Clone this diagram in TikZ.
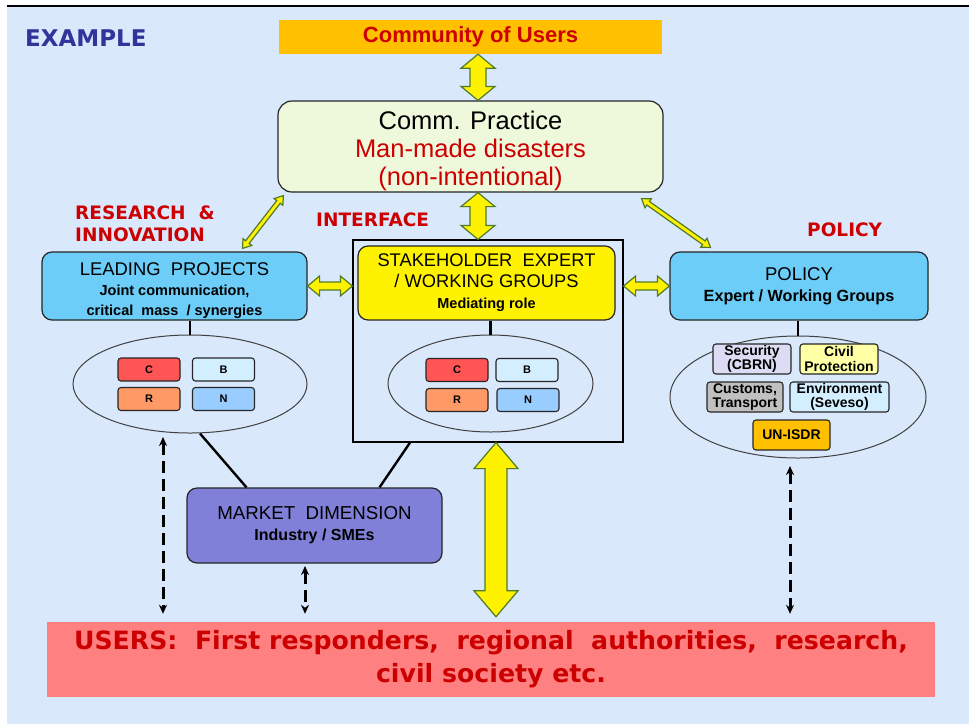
\documentclass[tikz,border=0pt]{standalone}
\usepackage{fontspec}
\setmainfont{Liberation Sans}
\newfontfamily\verdfont{DejaVu Sans}
\usetikzlibrary{calc}
\usetikzlibrary{positioning}
\usetikzlibrary{shapes.geometric}
\usetikzlibrary{arrows.meta}

\definecolor{bgblue}{HTML}{DAE8FB}
\definecolor{orng}{HTML}{FFC000}
\definecolor{redtxt}{HTML}{CC0000}
\definecolor{paleg}{HTML}{EEF9DC}
\definecolor{skyb}{HTML}{6BCDF8}
\definecolor{purp}{HTML}{8080D8}
\definecolor{pinkr}{HTML}{FF8080}
\definecolor{navy}{HTML}{333399}
\definecolor{olive}{HTML}{4F7A28}
\definecolor{chipc}{HTML}{FF5555}
\definecolor{chipb}{HTML}{D2EEFF}
\definecolor{chipr}{HTML}{FF9966}
\definecolor{chipn}{HTML}{99CCFF}
\definecolor{lav}{HTML}{DCDCF4}
\definecolor{lyel}{HTML}{FFFFA6}
\definecolor{gry}{HTML}{C0C0C0}

% fat double arrow: from, to, head length, head half width, shaft half width
\newcommand{\fatarrow}[5]{%
  \filldraw[fat] (#1)
    -- ($(#1)!#3!(#2)!#4!90:(#2)$)
    -- ($(#1)!#3!(#2)!#5!90:(#2)$)
    -- ($(#2)!#3!(#1)!#5!-90:(#1)$)
    -- ($(#2)!#3!(#1)!#4!-90:(#1)$)
    -- (#2)
    -- ($(#2)!#3!(#1)!#4!90:(#1)$)
    -- ($(#2)!#3!(#1)!#5!90:(#1)$)
    -- ($(#1)!#3!(#2)!#5!-90:(#2)$)
    -- ($(#1)!#3!(#2)!#4!-90:(#2)$)
    -- cycle;}

\begin{document}
\begin{tikzpicture}[x=1pt,y=-1pt,
  box/.style={draw=black!85,line width=1.2pt,rounded corners=12pt,align=center,inner sep=0pt,font=\fontsize{15}{21}\selectfont},
  chip/.style={draw=black!85,line width=1.1pt,rounded corners=3pt,minimum width=62pt,minimum height=23pt,inner sep=0pt,font=\bfseries\fontsize{11}{12}\selectfont},
  pchip/.style={chip,minimum height=30pt,align=center,font=\bfseries\fontsize{14}{14.5}\selectfont},
  ring/.style={draw=black!75,line width=1pt,ellipse,inner sep=0pt},
  head/.style={text=redtxt,inner sep=0pt,align=left,font=\verdfont\bfseries\fontsize{18.5}{22}\selectfont},
  fat/.style={fill=yellow,draw=olive,line width=1.2pt,line join=miter},
  link/.style={line width=2.4pt},
  dasharrow/.style={line width=3pt,dash pattern=on 12pt off 6pt,{Stealth[length=9pt,width=8pt]}-{Stealth[length=9pt,width=8pt]}}]
  \useasboundingbox (0,0) rectangle (969,724);
  \fill[bgblue] (7,7) rectangle (969,724);
  \draw[line width=2pt] (7,6) -- (969,6);

  \node[text=navy,anchor=west,inner sep=0pt,font=\verdfont\bfseries\fontsize{23}{26}\selectfont] (ex) at (25,38) {EXAMPLE};

  \node[fill=orng,minimum width=383pt,minimum height=34pt,inner sep=0pt,text=redtxt,font=\bfseries\fontsize{22}{24}\selectfont] (cu) at (470.5,37) {Community of Users};
  \node[box,fill=paleg,minimum width=385pt,minimum height=91pt,rounded corners=14pt,font=\fontsize{25.5}{28}\selectfont] (cp) at (470.5,146.5)
    {\rule{0pt}{28pt}Comm. Practice\\ \textcolor{redtxt}{Man-made disasters}\\ \textcolor{redtxt}{(non-intentional)}};

  \node[head,anchor=north west] (ri) at (75,206) {RESEARCH \ \&\\INNOVATION};
  \node[head,anchor=west] (it) at (316,220) {INTERFACE};
  \node[head,anchor=west] (po) at (807,230) {POLICY};

  \node[box,fill=skyb,minimum width=265pt,minimum height=68pt,rounded corners=10pt,font=\fontsize{15}{20}\selectfont] (lp) at (174.5,286)
    {\rule{0pt}{22pt}{\fontsize{18.4}{20}\selectfont LEADING \ PROJECTS}\\
     {\bfseries\fontsize{14.5}{18}\selectfont Joint communication,}\\
     {\bfseries\fontsize{14.5}{18}\selectfont critical \ mass \ / synergies}};
  \node[draw=black,line width=1.2pt,minimum width=270pt,minimum height=202pt,inner sep=0pt] (ifc) at (488,341) {};
  \node[box,fill=yellow,minimum width=257pt,minimum height=74pt,rounded corners=10pt] (sh) at (486.5,283)
    {{\fontsize{18.3}{21}\selectfont STAKEHOLDER \ EXPERT}\\
     {\fontsize{18.3}{21}\selectfont / WORKING GROUPS}\\
     {\bfseries\fontsize{14.5}{18}\selectfont Mediating role}};
  \node[box,fill=skyb,minimum width=258pt,minimum height=68pt,rounded corners=10pt] (pol) at (799,286)
    {{\fontsize{18.5}{22}\selectfont POLICY}\\
     {\bfseries\fontsize{16.2}{18}\selectfont Expert / Working Groups}};

  % ellipses with their topics
  \node[ring,minimum width=234pt,minimum height=98pt] (ell1) at (190,384) {};
  \node[ring,minimum width=205pt,minimum height=97pt] (ell2) at (490.5,383.5) {};
  \node[ring,minimum width=256pt,minimum height=122pt] (ell3) at (798,397) {};

  \node[chip,fill=chipc] (c1) at (149,369.5) {C};
  \node[chip,fill=chipb] (b1) at (223.5,369.5) {B};
  \node[chip,fill=chipr] (r1) at (149,399) {R};
  \node[chip,fill=chipn] (n1) at (223.5,399) {N};

  \node[chip,fill=chipc] (c2) at (457,370) {C};
  \node[chip,fill=chipb] (b2) at (527,370) {B};
  \node[chip,fill=chipr] (r2) at (457,400) {R};
  \node[chip,fill=chipn] (n2) at (528,400) {N};

  \node[pchip,fill=lav,minimum width=78pt] (sec) at (752,359) {Security\\(CBRN)};
  \node[pchip,fill=lyel,minimum width=78pt] (civ) at (839,359) {Civil\\Protection};
  \node[pchip,fill=gry,minimum width=76pt] (cus) at (745,397) {Customs,\\Transport};
  \node[pchip,fill=chipb,minimum width=99pt] (env) at (839.5,397) {Environment\\(Seveso)};
  \node[pchip,fill=orng,minimum width=77pt] (un) at (791.5,435) {UN-ISDR};

  \node[box,fill=purp,minimum width=255pt,minimum height=75pt,rounded corners=10pt] (mk) at (314.5,525.5)
    {{\fontsize{18.7}{21}\selectfont MARKET \ DIMENSION}\\
     {\bfseries\fontsize{16}{17}\selectfont Industry / SMEs}};

  \node[fill=pinkr,minimum width=888pt,minimum height=75pt,inner sep=0pt,align=center,text=redtxt,
        font=\verdfont\bfseries\fontsize{25.2}{33}\selectfont] (us) at (491,659.5)
    {USERS: \ First responders, \ regional \ authorities, \ research,\\ civil society etc.};

  % fat arrows
  \coordinate (a1) at ([xshift=7.5pt]cu.south);
  \coordinate (a2) at ([xshift=7.5pt]cp.north);
  \fatarrow{a1}{a2}{14pt}{17pt}{8pt}
  \coordinate (b1) at ([xshift=7.5pt]cp.south);
  \coordinate (b2) at ([xshift=-10pt]ifc.north);
  \fatarrow{b1}{b2}{14pt}{17pt}{8pt}
  \coordinate (d1) at ([xshift=6pt,yshift=-3pt]cp.south west);
  \coordinate (d2) at ([xshift=68pt,yshift=3pt]lp.north);
  \fatarrow{d1}{d2}{8pt}{5.5pt}{2.2pt}
  \coordinate (e1) at ([xshift=-22pt,yshift=-6pt]cp.south east);
  \coordinate (e2) at ([xshift=41pt,yshift=4pt]pol.north west);
  \fatarrow{e1}{e2}{8pt}{5.5pt}{2.2pt}
  \fatarrow{lp.east}{ifc.west |- lp.east}{12pt}{10pt}{4pt}
  \fatarrow{ifc.east |- pol.west}{pol.west}{12pt}{10pt}{4pt}
  \coordinate (f1) at ([xshift=8pt]ifc.south);
  \coordinate (f2) at ([xshift=5pt,yshift=5pt]us.north);
  \fatarrow{f1}{f2}{26pt}{22pt}{11pt}

  % plain links
  \draw[link] (lp.south -| ell1.north) -- (ell1.north);
  \draw[link] (sh.south -| ell2.north) -- (ell2.north);
  \draw[link] (pol.south -| ell3.north) -- (ell3.north);
  \draw[link] ([xshift=10pt]ell1.south) -- ([xshift=-68pt]mk.north);
  \draw[link] ([xshift=-78pt]ifc.south) -- ([xshift=65pt]mk.north);

  % dashed arrows to users
  \coordinate (g1) at (163,437);
  \coordinate (g2) at (305,566);
  \coordinate (g3) at (790,466);
  \draw[dasharrow] (g1) -- ([yshift=8pt]g1 |- us.north);
  \draw[dasharrow] (g2) -- ([yshift=8pt]g2 |- us.north);
  \draw[dasharrow] (g3) -- ([yshift=8pt]g3 |- us.north);
\end{tikzpicture}
\end{document}
